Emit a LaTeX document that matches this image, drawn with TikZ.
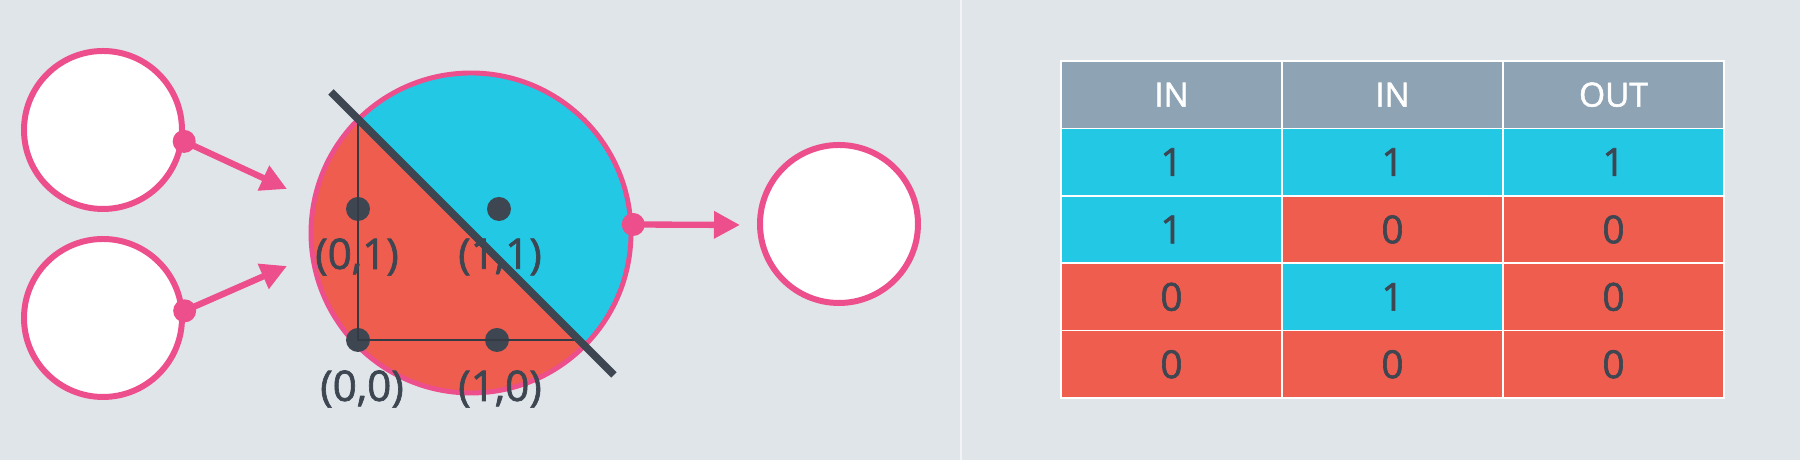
\documentclass[tikz,border=0pt]{standalone}
\usepackage{fontspec}
\setmainfont{Open Sans}
\newfontfamily\medfont{Open Sans}[FakeBold=1.6]
\usetikzlibrary{arrows.meta,positioning}
\definecolor{bgGray}{HTML}{E0E5EA}
\definecolor{nnPink}{HTML}{EC4F8C}
\definecolor{nnRed}{HTML}{EF5D4F}
\definecolor{nnCyan}{HTML}{22C8E4}
\definecolor{nnDark}{HTML}{3D4651}
\definecolor{headGray}{HTML}{8EA3B4}
\tikzstyle{neuron} = [circle, draw=nnPink, line width=1.7pt, fill=white, minimum size=1.58cm, inner sep=0pt]
\tikzstyle{joint}  = [circle, fill=nnPink, minimum size=0.23cm, inner sep=0pt]
\tikzstyle{point}  = [circle, fill=nnDark, minimum size=0.24cm, inner sep=0pt]
\tikzstyle{arrow}  = [nnPink, line width=1.8pt, -{Triangle[length=0.26cm,width=0.26cm]}]
\tikzstyle{coord}  = [font=\fontsize{12}{14}\selectfont\medfont, text=nnDark, inner sep=0pt]
\tikzstyle{cell}   = [draw=white!60!nnCyan!0, line width=0.5pt, minimum width=2.21cm, minimum height=0.674cm, inner sep=0pt, font=\fontsize{11}{13}\selectfont\medfont, text=nnDark]
\tikzstyle{head}   = [cell, fill=headGray, text=white, font=\fontsize{9.5}{11}\selectfont\medfont]

\begin{document}
\begin{tikzpicture}[]
        \useasboundingbox (0,0) rectangle (18,4.6);
        \fill[bgGray] (0,0) rectangle (18,4.6);
        \draw[white!55!bgGray, line width=0.6pt] (9.61,0) -- (9.61,4.6);

        % inputs
        \node[neuron] (in1) at (1.03,3.30) {};
        \node[neuron] (in2) at (1.03,1.42) {};
        \node[joint] (j1) at (in1.-8) {};
        \node[joint] (j2) at (in2.5) {};

        % perceptron
        \coordinate (pc) at (4.71,2.27);
        \begin{scope}
            \clip (pc) circle (1.6);
            \fill[nnRed] (pc) circle (1.6);
            \fill[nnCyan] (3.31,3.68) -- (6.14,0.85) -- (6.6,0.4) -- (6.6,4.2) -- (2.8,4.2) -- cycle;
        \end{scope}
        \node[circle, draw=nnPink, line width=1.4pt, minimum size=3.2cm, inner sep=0pt] (perc) at (pc) {};

        \coordinate (axy) at (3.58,3.41);
        \coordinate (axx) at (5.79,1.20);
        \node[point] (p00) at (3.58,1.20) {};
        \node[point] (p01) at (3.58,2.51) {};
        \node[point] (p10) at (4.97,1.20) {};
        \node[point] (p11) at (4.99,2.51) {};
        \draw[nnDark!85!black, line width=0.6pt] (axy) -- (p00.center) -- (axx);

        \coordinate (ls) at (3.31,3.68);
        \coordinate (le) at (6.14,0.85);
        \draw[nnDark, line width=2.2pt] (ls) -- (le);

        \node[coord] (l01) at (3.57,2.03) {(0,1)};
        \node[coord] (l11) at (5.00,2.03) {(1,1)};
        \node[coord] (l00) at (3.62,0.71) {(0,0)};
        \node[coord] (l10) at (5.00,0.71) {(1,0)};

        \coordinate (t1) at (2.87,2.71);
        \coordinate (t2) at (2.87,1.94);
        \draw[arrow] (j1.center) -- (t1);
        \draw[arrow] (j2.center) -- (t2);

        % output
        \node[joint] (j3) at (perc.3) {};
        \node[neuron] (out) at (8.39,2.36) {};
        \coordinate (t3) at (7.40,2.35);
        \draw[arrow] (j3.center) -- (t3);

        % truth table
        \node[head] (h1) at (11.715,3.653) {IN};
        \node[head] (h2) at (13.925,3.653) {IN};
        \node[head] (h3) at (16.135,3.653) {OUT};

        \node[cell, fill=nnCyan] (c11) at (11.715,2.979) {1};
        \node[cell, fill=nnCyan] (c12) at (13.925,2.979) {1};
        \node[cell, fill=nnCyan] (c13) at (16.135,2.979) {1};

        \node[cell, fill=nnCyan] (c21) at (11.715,2.305) {1};
        \node[cell, fill=nnRed]  (c22) at (13.925,2.305) {0};
        \node[cell, fill=nnRed]  (c23) at (16.135,2.305) {0};

        \node[cell, fill=nnRed]  (c31) at (11.715,1.631) {0};
        \node[cell, fill=nnCyan] (c32) at (13.925,1.631) {1};
        \node[cell, fill=nnRed]  (c33) at (16.135,1.631) {0};

        \node[cell, fill=nnRed]  (c41) at (11.715,0.957) {0};
        \node[cell, fill=nnRed]  (c42) at (13.925,0.957) {0};
        \node[cell, fill=nnRed]  (c43) at (16.135,0.957) {0};
    \end{tikzpicture}
\end{document}
